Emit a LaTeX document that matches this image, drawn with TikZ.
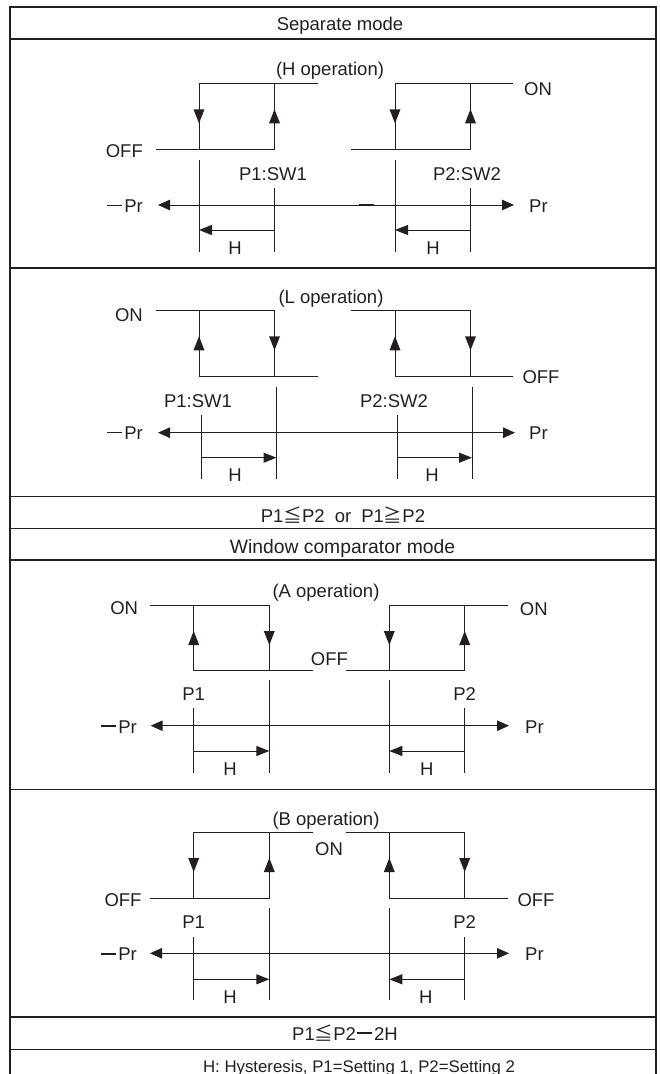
\documentclass[tikz,border=0pt]{standalone}
\usepackage{fontspec}
\setmainfont{Liberation Sans}
\newfontfamily\cjkfont{Noto Sans CJK JP}
\usetikzlibrary{arrows.meta}
\definecolor{ink}{RGB}{35,31,32}
\newcommand\fs{\fontsize{18.5pt}{22pt}\selectfont}
\newcommand\lmin{\hspace{1.2pt}\rule[6.2pt]{15pt}{1.4pt}\hspace{2pt}}
\newcommand\mle{{\cjkfont ≦}}
\newcommand\mge{{\cjkfont ≧}}
\newcommand\dtri[2]{\fill[ink] (#1-5.5,#2-7) -- (#1+5.5,#2-7) -- (#1,#2+7) -- cycle;}
\newcommand\utri[2]{\fill[ink] (#1-5.5,#2+7) -- (#1+5.5,#2+7) -- (#1,#2-7) -- cycle;}
\tikzset{
  ln/.style={line width=1pt, draw=ink},
  bd/.style={line width=1.3pt, draw=ink},
  lbl/.style={inner sep=0pt, font=\fs, text=ink},
  harr/.style={ln, -{Triangle[length=13pt,width=10pt]}},
  axarr/.style={ln, {Triangle[length=12pt,width=10.5pt]}-{Triangle[length=12pt,width=10.5pt]}},
  mdash/.style={line width=1.5pt, draw=ink},
}
\begin{document}
\begin{tikzpicture}[x=1pt,y=-1pt]
\useasboundingbox (0,0) rectangle (659,1074);
% frame and rows
\draw[bd] (10,1090) -- (10,7) -- (656,7) -- (656,1090);
\draw[bd] (10,39) -- (656,39);
\draw[bd] (10,268) -- (656,268);
\draw[bd] (10,496.7) -- (656,496.7);
\draw[bd] (10,528.3) -- (656,528.3);
\draw[bd] (10,560) -- (656,560);
\draw[bd] (10,789.3) -- (656,789.3);
\draw[bd] (10,1017) -- (656,1017);
\draw[bd] (10,1049.3) -- (656,1049.3);
\node[lbl, anchor=base] (title1) at (340,30) {Separate mode};
\node[lbl, anchor=base] (cond1) at (343,522) {P1\mle P2\hspace{5pt} or\hspace{5pt} P1\mge P2};
\node[lbl, anchor=base, font=\fontsize{19.3pt}{22pt}\selectfont] (title2) at (342.5,553) {Window comparator mode};
\node[lbl, anchor=base] (cond2) at (345,1040) {P1\mle P2\lmin 2H};
\node[lbl, anchor=base, font=\fontsize{16.8pt}{20pt}\selectfont] (foot) at (359,1072.5) {H: Hysteresis, P1=Setting 1, P2=Setting 2};

% ===== H operation =====
\node[lbl, anchor=base] (hop) at (330,75) {(H operation)};
\draw[ln] (318,83.3) -- (199,83.3) -- (199,149.3);
\draw[ln] (156,149.3) -- (274.5,149.3) -- (274.5,83.3);
\dtri{199}{116.3} \utri{274.5}{116.3}
\draw[ln] (513,83.3) -- (395,83.3) -- (395,149.3);
\draw[ln] (351,149.3) -- (470.5,149.3) -- (470.5,83.3);
\dtri{395}{116.3} \utri{470.5}{116.3}
\draw[ln] (199,160) -- (199,252);
\draw[ln] (274.5,187.7) -- (274.5,252);
\draw[ln] (395,160) -- (395,252);
\draw[ln] (470.5,187.7) -- (470.5,252);
\draw[axarr] (158,205) -- (514,205);
\draw[mdash] (359,205) -- (374,205);
\draw[harr] (274.5,230) -- (199,230);
\draw[harr] (470.5,230) -- (395,230);
\node[lbl, anchor=base east] (hoff) at (143,157.3) {OFF};
\node[lbl, anchor=base west] (hon) at (524,95.5) {ON};
\node[lbl, anchor=base] (hp1) at (273,180) {P1:SW1};
\node[lbl, anchor=base] (hp2) at (467,180) {P2:SW2};
\node[lbl, anchor=base east] (hmpr) at (143,212.3) {\lmin Pr};
\node[lbl, anchor=base west] (hpr) at (529,212.3) {Pr};
\node[lbl, anchor=base] (hh1) at (235,254) {H};
\node[lbl, anchor=base] (hh2) at (433,254) {H};

% ===== L operation =====
\node[lbl, anchor=base] (lop) at (331,303) {(L operation)};
\draw[ln] (156,310.7) -- (274.5,310.7) -- (274.5,376);
\draw[ln] (318,376) -- (199,376) -- (199,310.7);
\utri{199}{343.3} \dtri{274.5}{343.3}
\draw[ln] (351,310.7) -- (470.5,310.7) -- (470.5,376);
\draw[ln] (513,376) -- (395,376) -- (395,310.7);
\utri{395}{343.3} \dtri{470.5}{343.3}
\draw[ln] (276.5,386.7) -- (276.5,479);
\draw[ln] (201,415) -- (201,479);
\draw[ln] (472,386.7) -- (472,479);
\draw[ln] (397,415) -- (397,479);
\draw[axarr] (158,432.7) -- (515,432.7);
\draw[mdash] (297,432.7) -- (312,432.7);
\draw[harr] (201,457.7) -- (276.5,457.7);
\draw[harr] (397,457.7) -- (472,457.7);
\node[lbl, anchor=base east] (lon) at (143,321.7) {ON};
\node[lbl, anchor=base west] (loff) at (522.3,383.3) {OFF};
\node[lbl, anchor=base] (lp1) at (198,407) {P1:SW1};
\node[lbl, anchor=base] (lp2) at (394,407) {P2:SW2};
\node[lbl, anchor=base east] (lmpr) at (143,439.5) {\lmin Pr};
\node[lbl, anchor=base west] (lpr) at (529,439.5) {Pr};
\node[lbl, anchor=base] (lh1) at (235,481.7) {H};
\node[lbl, anchor=base] (lh2) at (432,481.7) {H};

% ===== A operation =====
\node[lbl, anchor=base] (aop) at (326,597) {(A operation)};
\draw[ln] (150,605) -- (269.3,605) -- (269.3,670.7);
\draw[ln] (313,670.7) -- (193.7,670.7) -- (193.7,605);
\utri{193.7}{638} \dtri{269.3}{638}
\draw[ln] (508.3,605) -- (389.3,605) -- (389.3,670.7);
\draw[ln] (345.7,670.7) -- (464.7,670.7) -- (464.7,605);
\dtri{389.3}{638} \utri{464.7}{638}
\draw[ln] (269.3,680) -- (269.3,773.3);
\draw[ln] (193.7,708.3) -- (193.7,773.3);
\draw[ln] (389.3,680) -- (389.3,773.3);
\draw[ln] (464.7,708.3) -- (464.7,773.3);
\draw[axarr] (150.7,725.7) -- (509,725.7);
\draw[mdash] (353,725.7) -- (368,725.7);
\draw[harr] (193.7,751) -- (269.3,751);
\draw[harr] (464.7,751) -- (389.3,751);
\node[lbl, anchor=base east] (aon1) at (138.3,614.5) {ON};
\node[lbl, anchor=base west] (aon2) at (519.7,615) {ON};
\node[lbl, anchor=base west] (aoff) at (310.7,665) {OFF};
\node[lbl, anchor=base] (ap1) at (193.7,700) {P1};
\node[lbl, anchor=base] (ap2) at (464.7,700) {P2};
\node[lbl, anchor=base east] (ampr) at (137,733) {\lmin Pr};
\node[lbl, anchor=base west] (apr) at (525,733) {Pr};
\node[lbl, anchor=base] (ah1) at (230,775) {H};
\node[lbl, anchor=base] (ah2) at (426.7,775) {H};

% ===== B operation =====
\node[lbl, anchor=base] (bop) at (326,825) {(B operation)};
\draw[ln] (313.3,832.3) -- (193.7,832.3) -- (193.7,898);
\draw[ln] (150,898) -- (269.3,898) -- (269.3,832.3);
\dtri{193.7}{865} \utri{269.3}{865}
\draw[ln] (345.7,832.3) -- (464.7,832.3) -- (464.7,898);
\draw[ln] (508.3,898) -- (389.3,898) -- (389.3,832.3);
\utri{389.3}{865} \dtri{464.7}{865}
\draw[ln] (269.3,908.3) -- (269.3,1000);
\draw[ln] (193.7,936.7) -- (193.7,1000);
\draw[ln] (389.3,908.3) -- (389.3,1000);
\draw[ln] (464.7,936.7) -- (464.7,1000);
\draw[axarr] (150,953.3) -- (509,953.3);
\draw[mdash] (354,953.3) -- (367,953.3);
\draw[harr] (193.7,979.3) -- (269.3,979.3);
\draw[harr] (464.7,979.3) -- (389.3,979.3);
\node[lbl, anchor=base east] (boff1) at (141.7,906.7) {OFF};
\node[lbl, anchor=base west] (bon) at (315,855) {ON};
\node[lbl, anchor=base west] (boff2) at (517.3,906.7) {OFF};
\node[lbl, anchor=base] (bp1) at (193.7,928.3) {P1};
\node[lbl, anchor=base] (bp2) at (464.7,928.3) {P2};
\node[lbl, anchor=base east] (bmpr) at (137,960.7) {\lmin Pr};
\node[lbl, anchor=base west] (bpr) at (525,960.7) {Pr};
\node[lbl, anchor=base] (bh1) at (230,1003.3) {H};
\node[lbl, anchor=base] (bh2) at (425.7,1003.3) {H};
\end{tikzpicture}
\end{document}
